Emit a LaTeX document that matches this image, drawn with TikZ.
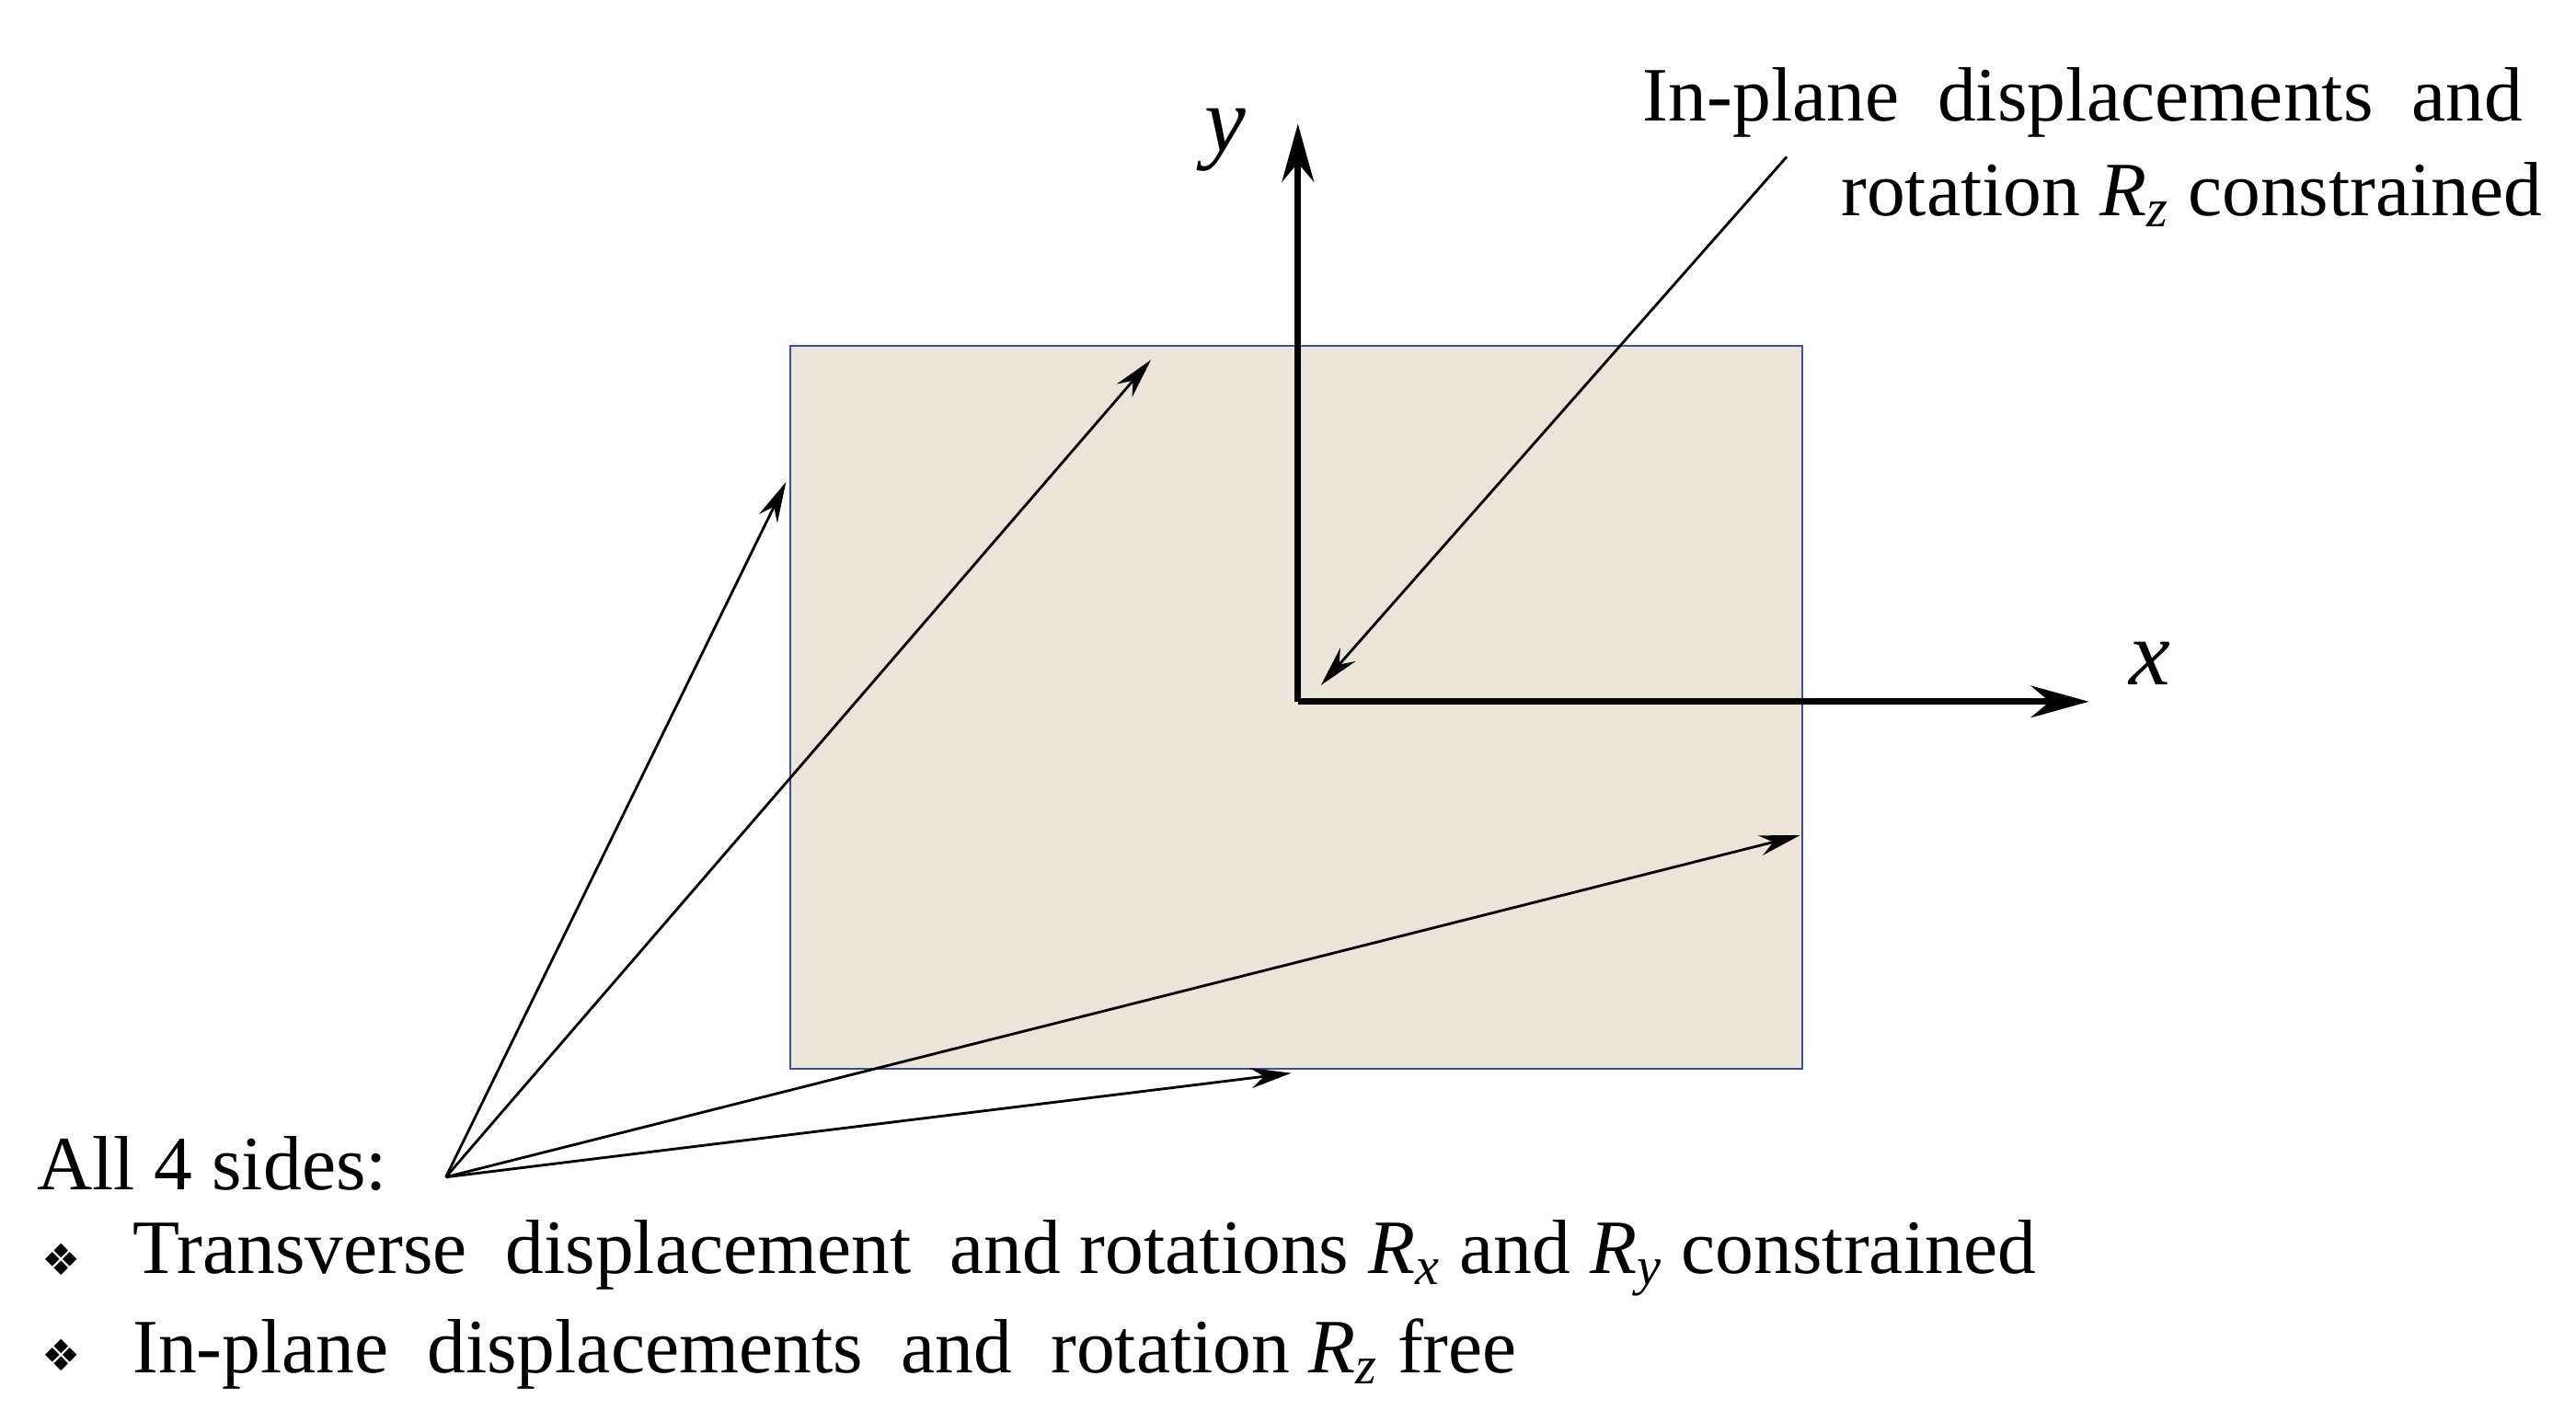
\documentclass[tikz,border=0pt]{standalone}
\usepackage{fontspec}
\setmainfont{Liberation Serif}
\newfontfamily\symf{DejaVu Sans}
\usetikzlibrary{arrows.meta}
\newcommand{\Rsub}[1]{\textit{R}\textsubscript{\textit{#1}}}
\begin{document}
\begin{tikzpicture}[x=0.02cm,y=-0.02cm,
  lbl/.style={font=\fontsize{26.5}{30}\selectfont, inner sep=0pt},
  ptr/.style={-{Stealth[length=14pt,width=7pt]}, line width=0.9pt},
  axis/.style={-{Stealth[length=20pt,width=11pt]}, line width=2.2pt}]
\useasboundingbox (0,0) rectangle (1560,861);
\node[draw={rgb,255:red,60;green,80;blue,150}, line width=0.6pt, fill={rgb,255:red,234;green,228;blue,217}, minimum width=12.26cm, minimum height=8.76cm, anchor=north west, inner sep=0pt] (plate) at (478,209) {};
\coordinate (o) at (786,425);
\coordinate (ytip) at (786,75);
\coordinate (xtip) at (1265,425);
\draw[axis] (o) -- (ytip);
\draw[axis] (o) -- (xtip);
\node[lbl, font=\fontsize{32}{36}\selectfont\itshape] (ylab) at (742,85) {y};
\node[lbl, font=\fontsize{32}{36}\selectfont\itshape] (xlab) at (1302,402) {x};
\node[lbl, anchor=east] (t1) at (1528,62) {In-plane\ \ displacements\ \ and};
\node[lbl, anchor=east] (t2) at (1540,118) {rotation \Rsub{z} constrained};
\coordinate (s1) at (1082,95);
\coordinate (e1) at (800,415);
\draw[ptr] (s1) -- (e1);
\node[lbl, anchor=west] (all) at (22,705) {All 4 sides:};
\coordinate (src) at (270,713);
\coordinate (a1) at (476,292);
\coordinate (a2) at (697,218);
\coordinate (a3) at (1090,506);
\coordinate (a4) at (782,650);
\foreach \t in {a1,a2,a3,a4} \draw[ptr] (src) -- (\t);
\node[lbl, anchor=center] (b1) at (37,763) {\symf\fontsize{15}{17}\selectfont ❖};
\node[lbl, anchor=west] (l1) at (80,762) {Transverse\ \ displacement\ \ and rotations \Rsub{x} and \Rsub{y} constrained};
\node[lbl, anchor=center] (b2) at (37,821) {\symf\fontsize{15}{17}\selectfont ❖};
\node[lbl, anchor=west] (l2) at (80,820) {In-plane\ \ displacements\ \ and\ \ rotation \Rsub{z} free};
\end{tikzpicture}
\end{document}
